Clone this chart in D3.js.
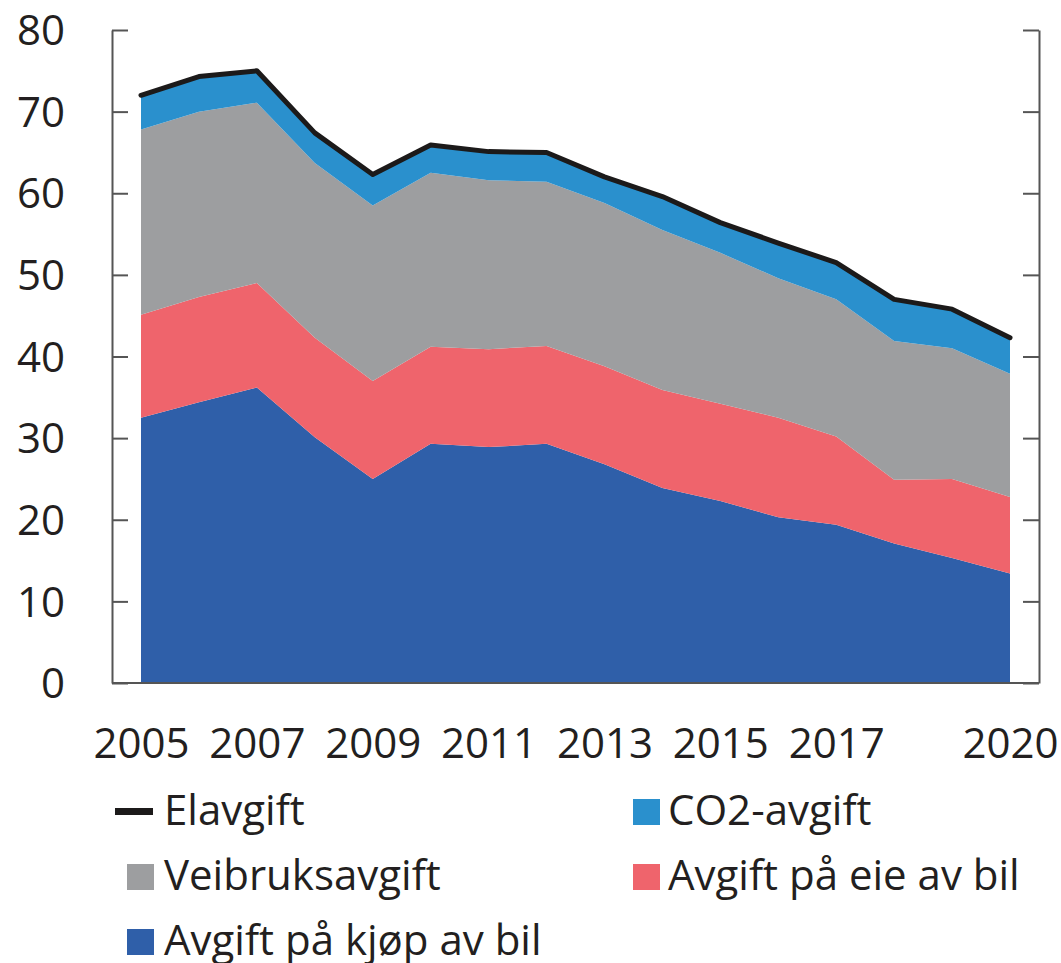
<!DOCTYPE html>
<html>
<head>
<meta charset="utf-8">
<script src="https://cdn.jsdelivr.net/npm/d3@7"></script>
<style>
  body { margin: 0; background: #fff; }
  svg text { font-family: "Open Sans", sans-serif; fill: #231f20; }
</style>
</head>
<body>
<svg></svg>
<script>
//Chart data
var years = [2005, 2006, 2007, 2008, 2009, 2010, 2011, 2012, 2013, 2014, 2015, 2016, 2017, 2018, 2019, 2020];
var kjop = [32.5, 34.4, 36.2, 30.1, 25.0, 29.3, 28.9, 29.3, 26.8, 23.9, 22.3, 20.3, 19.4, 17.1, 15.3, 13.4];
var eie = [12.6, 12.9, 12.8, 12.2, 12.0, 11.9, 12.0, 12.0, 12.0, 12.0, 11.9, 12.2, 10.8, 7.8, 9.7, 9.4];
var veibruk = [22.7, 22.7, 22.1, 21.4, 21.5, 21.3, 20.7, 20.1, 20.0, 19.6, 18.5, 17.1, 16.8, 17.0, 16.0, 15.1];
var co2 = [4.0, 4.1, 3.7, 3.5, 3.6, 3.2, 3.3, 3.4, 3.0, 3.9, 3.5, 4.1, 4.3, 4.9, 4.6, 4.2];
var elavgift = [0.2, 0.2, 0.2, 0.2, 0.2, 0.2, 0.2, 0.2, 0.2, 0.2, 0.2, 0.2, 0.2, 0.2, 0.2, 0.2];

var yTicks = [0, 10, 20, 30, 40, 50, 60, 70, 80];
var xTicks = [2005, 2007, 2009, 2011, 2013, 2015, 2017, 2020];

var seriesKeys = ["kjop", "eie", "veibruk", "co2", "elavgift"];
var colors = { kjop: "#2f5fa9", eie: "#ef646c", veibruk: "#9d9ea0", co2: "#2a90cd", elavgift: "#1c1a1a" };

var legendItems = [
	{ name: "Elavgift", key: "elavgift", line: true, col: 0, row: 0 },
	{ name: "CO2-avgift", key: "co2", col: 1, row: 0 },
	{ name: "Veibruksavgift", key: "veibruk", col: 0, row: 1 },
	{ name: "Avgift på eie av bil", key: "eie", col: 1, row: 1 },
	{ name: "Avgift på kjøp av bil", key: "kjop", col: 0, row: 2 }
];

//Canvas settings
var width = 1061;
var height = 963;
var plotLeft = 112, plotRight = 1039, plotTop = 30, plotBottom = 683;

var svg = d3.select("svg")
	.attr("width", width)
	.attr("height", height);

//build rows for the stack
var table = years.map(function(yr, i) {
	return { year: yr, kjop: kjop[i], eie: eie[i], veibruk: veibruk[i], co2: co2[i], elavgift: elavgift[i] };
});

var x = d3.scaleLinear().domain([2005, 2020]).range([141, 1010]);
var y = d3.scaleLinear().domain([0, 80]).range([plotBottom, plotTop]);

var stack = d3.stack().keys(seriesKeys);
var layers = stack(table);

var area = d3.area()
	.x(function(d) { return x(d.data.year); })
	.y0(function(d) { return y(d[0]); })
	.y1(function(d) { return y(d[1]); });

svg.append("g").selectAll("path")
	.data(layers.slice(0, 4))
	.enter()
		.append("path")
	.attr("d", area)
	.attr("fill", function(d) { return colors[d.key]; });

//Elavgift drawn as the thick black top line
var topLine = d3.line()
	.x(function(d) { return x(d.data.year); })
	.y(function(d) { return y(d[1]); });

svg.append("path")
	.datum(layers[4])
	.attr("d", topLine)
	.attr("fill", "none")
	.attr("stroke", colors.elavgift)
	.attr("stroke-width", 5)
	.attr("stroke-linejoin", "round")
	.attr("stroke-linecap", "round");

//Axes
var axisColor = "#555";

var yAxis = svg.append("g")
	.attr("transform", "translate(" + plotLeft + ",0)")
	.call(d3.axisLeft(y).tickValues(yTicks).tickSizeInner(-16).tickSizeOuter(0).tickPadding(47));

var yAxisRight = svg.append("g")
	.attr("transform", "translate(" + plotRight + ",0)")
	.call(d3.axisRight(y).tickValues(yTicks).tickSizeInner(-16).tickSizeOuter(0).tickFormat(""));

[yAxis, yAxisRight].forEach(function(g) {
	g.selectAll("path, line").attr("stroke", axisColor).attr("stroke-width", 2);
});
yAxis.selectAll("text")
	.attr("font-size", 42)
	.attr("font-family", "Open Sans")
	.attr("fill", "#231f20")
	.attr("dy", "0.35em");

//bottom baseline
svg.append("line")
	.attr("x1", plotLeft).attr("x2", plotRight)
	.attr("y1", plotBottom).attr("y2", plotBottom)
	.attr("stroke", axisColor)
	.attr("stroke-width", 2);

var xAxis = svg.append("g")
	.attr("transform", "translate(0," + plotBottom + ")")
	.call(d3.axisBottom(x).tickValues(xTicks).tickSize(0).tickFormat(d3.format("d")));
xAxis.select(".domain").remove();
xAxis.selectAll("text")
	.attr("y", 75)
	.attr("dy", 0)
	.attr("font-size", 42)
	.attr("font-family", "Open Sans")
	.attr("fill", "#231f20");

//Legend
var colX = [115, 633];
var rowY = [825, 890, 955];

var legend = svg.append("g").selectAll("g")
	.data(legendItems)
	.enter()
		.append("g")
	.attr("transform", function(d) { return "translate(" + colX[d.col] + "," + rowY[d.row] + ")"; });

legend.each(function(d) {
	var g = d3.select(this);
	if (d.line) {
		g.append("rect")
			.attr("x", 0).attr("y", -17)
			.attr("width", 38).attr("height", 7)
			.attr("fill", colors[d.key]);
	} else {
		g.append("rect")
			.attr("x", d.col == 0 ? 12 : 0).attr("y", -26)
			.attr("width", 27).attr("height", 26)
			.attr("fill", colors[d.key]);
	}
	g.append("text")
		.attr("x", d.col == 0 ? 49 : 35)
		.attr("y", 0)
		.attr("font-size", 42)
		.text(d.name);
});
</script>
</body>
</html>
